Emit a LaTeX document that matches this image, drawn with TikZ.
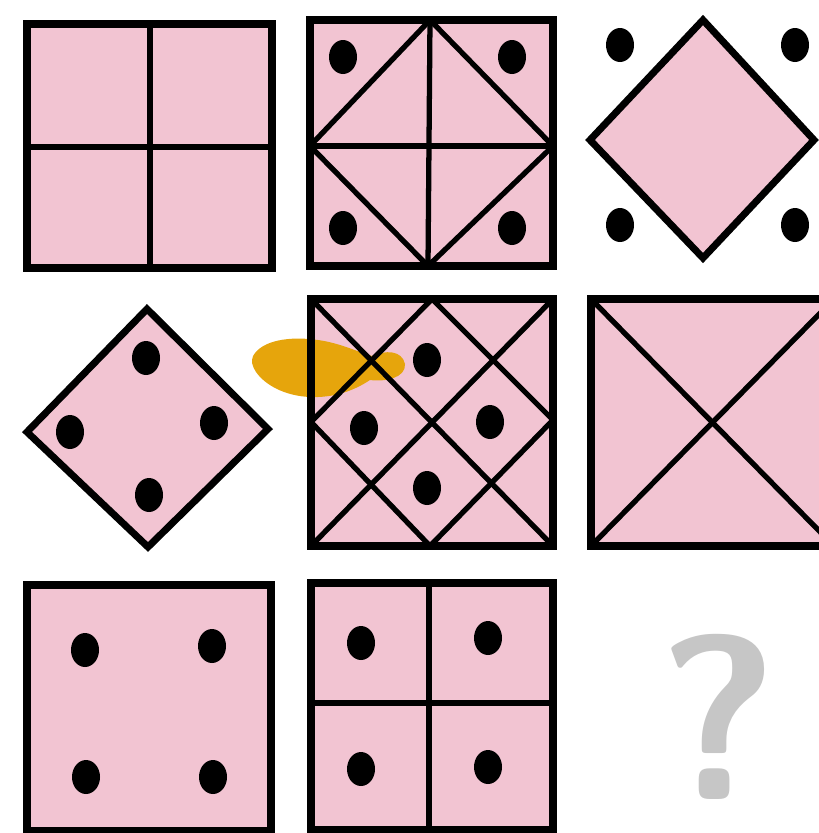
\documentclass[tikz,border=0pt]{standalone}
\usetikzlibrary{calc}
\definecolor{pinkfill}{RGB}{242,196,210}
\definecolor{blob}{RGB}{230,165,12}
\tikzset{
  frame/.style={draw=black, fill=pinkfill, line width=6pt, line join=miter},
  frameline/.style={draw=black, line width=6pt, line join=miter},
  inner/.style={draw=black, line width=4.5pt, line cap=round},
  dot/.style={fill=black},
}
\begin{document}
\begin{tikzpicture}[x=0.03cm,y=-0.03cm]
\useasboundingbox (0,0) rectangle (819,833);
\begin{scope}
\clip (0,0) rectangle (819,833);
% ---------- Row 1 ----------
% A: square with cross
\draw[frame] (27,24) rectangle (272,268);
\coordinate (At) at (150,24); \coordinate (Ab) at (150,268);
\coordinate (Al) at (27,147); \coordinate (Ar) at (272,147);
\draw[inner] (At) -- (Ab);
\draw[inner] (Al) -- (Ar);
% B: square with cross, diamond and four dots
\draw[frame] (310,20) rectangle (553,266);
\coordinate (Bt) at (430,20); \coordinate (Bb) at (428,266);
\coordinate (Bl) at (310,146); \coordinate (Br) at (553,146);
\draw[inner] (Bt) -- (Bb);
\draw[inner] (Bl) -- (Br);
\draw[inner, line join=miter] (Bt) -- (Br) -- (Bb) -- (Bl) -- cycle;
\fill[dot] (343,57) ellipse[x radius=14, y radius=17];
\fill[dot] (512,57) ellipse[x radius=14, y radius=17];
\fill[dot] (343,228) ellipse[x radius=14, y radius=17];
\fill[dot] (512,228) ellipse[x radius=14, y radius=17];
% C: diamond with dots outside
\draw[frame] (703,20) -- (814,140) -- (703,258) -- (590,140) -- cycle;
\fill[dot] (620,45) ellipse[x radius=14, y radius=17];
\fill[dot] (795,45) ellipse[x radius=14, y radius=17];
\fill[dot] (620,225) ellipse[x radius=14, y radius=17];
\fill[dot] (795,225) ellipse[x radius=14, y radius=17];
% ---------- Row 2 ----------
% D: diamond with four dots inside
\draw[frame] (147,309) -- (268,429) -- (148,547) -- (27,432) -- cycle;
\fill[dot] (146,358) ellipse[x radius=14, y radius=17];
\fill[dot] (70,432) ellipse[x radius=14, y radius=17];
\fill[dot] (214,423) ellipse[x radius=14, y radius=17];
\fill[dot] (149,495) ellipse[x radius=14, y radius=17];
% E: square with diagonals and inner diamond (fill, smudge, then lines)
\fill[pinkfill] (311,299) rectangle (553,546);
\fill[blob] (253,356)
  .. controls (262,340) and (290,336) .. (318,340)
  .. controls (340,343) and (358,352) .. (372,356)
  .. controls (385,350) and (402,350) .. (405,364)
  .. controls (406,378) and (385,382) .. (370,380)
  .. controls (355,390) and (335,398) .. (310,397)
  .. controls (285,396) and (265,385) .. (256,372)
  .. controls (252,366) and (251,361) .. (253,356) -- cycle;
\draw[frameline] (311,299) rectangle (553,546);
\coordinate (Etl) at (311,299); \coordinate (Etr) at (553,299);
\coordinate (Ebl) at (311,546); \coordinate (Ebr) at (553,546);
\coordinate (Et) at (432,299); \coordinate (Eb) at (430,546);
\coordinate (El) at (311,422); \coordinate (Er) at (553,420);
\draw[inner] (Etl) -- (Ebr);
\draw[inner] (Etr) -- (Ebl);
\draw[inner, line join=miter] (Et) -- (Er) -- (Eb) -- (El) -- cycle;
\fill[dot] (427,360) ellipse[x radius=14, y radius=17];
\fill[dot] (364,428) ellipse[x radius=14, y radius=17];
\fill[dot] (490,422) ellipse[x radius=14, y radius=17];
\fill[dot] (427,488) ellipse[x radius=14, y radius=17];
% F: square with X
\draw[frame] (591,299) rectangle (834,546);
\coordinate (Ftl) at (591,299); \coordinate (Ftr) at (834,299);
\coordinate (Fbl) at (591,546); \coordinate (Fbr) at (834,546);
\draw[inner] (Ftl) -- (Fbr);
\draw[inner] (Ftr) -- (Fbl);
% ---------- Row 3 ----------
% G: square with four dots
\draw[frame] (27,585) rectangle (271,831);
\fill[dot] (85,650) ellipse[x radius=14, y radius=17];
\fill[dot] (212,646) ellipse[x radius=14, y radius=17];
\fill[dot] (86,777) ellipse[x radius=14, y radius=17];
\fill[dot] (213,777) ellipse[x radius=14, y radius=17];
% H: square with cross and four dots
\draw[frame] (311,583) rectangle (553,830);
\coordinate (Ht) at (429,583); \coordinate (Hb) at (429,830);
\coordinate (Hl) at (311,703); \coordinate (Hr) at (553,703);
\draw[inner] (Ht) -- (Hb);
\draw[inner] (Hl) -- (Hr);
\fill[dot] (361,643) ellipse[x radius=14, y radius=17];
\fill[dot] (488,638) ellipse[x radius=14, y radius=17];
\fill[dot] (361,769) ellipse[x radius=14, y radius=17];
\fill[dot] (488,767) ellipse[x radius=14, y radius=17];
\end{scope}
% question mark
\node[text=gray!45, inner sep=0pt, anchor=south] (q) at (718,800)
  {\fontsize{200}{200}\selectfont\sffamily\bfseries ?};
\end{tikzpicture}
\end{document}
